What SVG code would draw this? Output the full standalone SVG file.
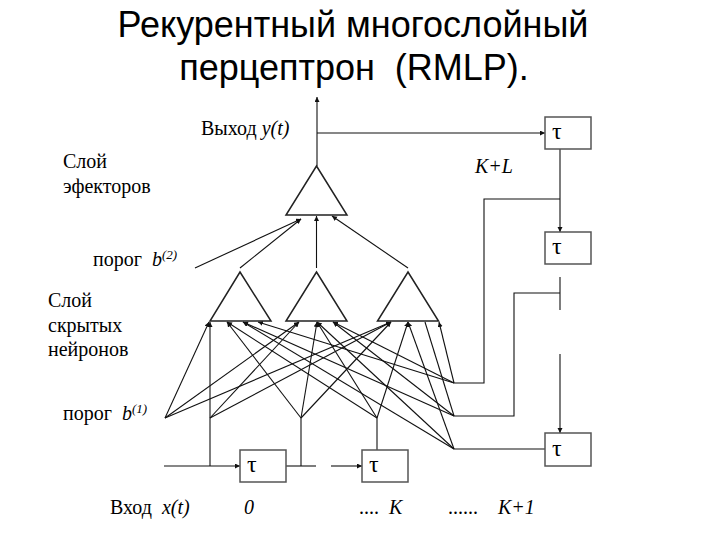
<svg xmlns="http://www.w3.org/2000/svg" width="720" height="540" viewBox="0 0 720 540">
<style>
.title{font:36px "Liberation Sans",Arial,sans-serif;fill:#000;text-anchor:middle}
.s{font:20px "Liberation Serif","Times New Roman",serif;fill:#000}
.t{font:24px "Liberation Serif","Times New Roman",serif;fill:#000}
.i{font-style:italic}
.sup{font-size:13px}
.n{fill:#fff;stroke:#222;stroke-width:1.5}
.b{fill:#fff;stroke:#555;stroke-width:1.5}
.c line,.c path{fill:none;stroke:#111;stroke-width:1.1}
.h{marker-end:url(#ah)}
</style>
<defs>
<marker id="ah" markerUnits="userSpaceOnUse" markerWidth="6" markerHeight="6" refX="5" refY="2.500" orient="auto"><path d="M0 0L5 2.500L0 5z" fill="#111" stroke="none"/></marker>
</defs>
<text class="title" x="353" y="37">Рекурентный многослойный</text>
<text class="title" x="354" y="80" xml:space="preserve">перцептрон  (RMLP).</text>
<g class="c" id="connectors">
<line class="h" x1="317" y1="166" x2="317" y2="97"/>
<line class="h" x1="317" y1="133" x2="545" y2="133"/>
<line class="h" x1="560" y1="149" x2="560" y2="232"/>
<line class="h" x1="560" y1="354" x2="560" y2="433"/>
<line x1="560" y1="277" x2="560" y2="310"/>
<path d="M454 383H484V199H560"/>
<path d="M454 416H514V293H560"/>
<path d="M454 449H545"/>
<line class="h" x1="195" y1="268" x2="301" y2="219"/>
<line class="h" x1="240" y1="268" x2="301" y2="219"/>
<line class="h" x1="316.500" y1="268" x2="316.500" y2="216"/>
<line class="h" x1="408" y1="268" x2="332" y2="216"/>
<line class="h" x1="165" y1="418" x2="209" y2="322"/>
<line class="h" x1="165" y1="418" x2="299" y2="322"/>
<line class="h" x1="165" y1="418" x2="391" y2="322"/>
<line class="h" x1="210" y1="466" x2="210" y2="322"/>
<line class="h" x1="210" y1="418" x2="299" y2="322"/>
<line class="h" x1="210" y1="418" x2="391" y2="322"/>
<line class="h" x1="301" y1="418" x2="227" y2="322"/>
<line class="h" x1="301" y1="418" x2="317" y2="322"/>
<line class="h" x1="301" y1="418" x2="391" y2="322"/>
<line class="h" x1="377" y1="418" x2="227" y2="322"/>
<line class="h" x1="377" y1="418" x2="317" y2="322"/>
<line x1="377" y1="450" x2="377" y2="418"/>
<line class="h" x1="377" y1="418" x2="408" y2="322"/>
<line class="h" x1="454" y1="383" x2="258" y2="322"/>
<line class="h" x1="454" y1="383" x2="333" y2="322"/>
<line class="h" x1="454" y1="383" x2="439" y2="322"/>
<line class="h" x1="454" y1="416" x2="243" y2="322"/>
<line class="h" x1="454" y1="416" x2="333" y2="322"/>
<line x1="454" y1="416" x2="425" y2="322"/>
<line class="h" x1="454" y1="449" x2="243" y2="322"/>
<line class="h" x1="454" y1="449" x2="317" y2="322"/>
<line class="h" x1="454" y1="449" x2="408" y2="322"/>
<line x1="301" y1="466" x2="301" y2="418"/>
<line class="h" x1="164" y1="466" x2="240" y2="466"/>
<line x1="286" y1="466" x2="316" y2="466"/>
<line class="h" x1="331" y1="466" x2="362" y2="466"/>
</g>
<g id="out"><path class="n" d="M316.500 166L347 215H286z"/></g>
<g id="h1"><path class="n" d="M240 272L271 321H210z"/></g>
<g id="h2"><path class="n" d="M316.500 272L347 321H286z"/></g>
<g id="h3"><path class="n" d="M408 272L438.500 321H377.500z"/></g>
<g id="d1"><rect class="b" x="240" y="450" width="46" height="32"/><text class="t" x="247" y="472">τ</text></g>
<g id="d2"><rect class="b" x="362" y="450" width="46" height="32"/><text class="t" x="369" y="472">τ</text></g>
<g id="d3"><rect class="b" x="545" y="117" width="46" height="32"/><text class="t" x="552" y="139">τ</text></g>
<g id="d4"><rect class="b" x="545" y="232" width="46" height="32"/><text class="t" x="552" y="254">τ</text></g>
<g id="d5"><rect class="b" x="545" y="433" width="46" height="33"/><text class="t" x="552" y="456">τ</text></g>
<text class="s" x="201" y="135">Выход <tspan class="i">y(t)</tspan></text>
<text class="i s" x="475" y="173">K+L</text>
<text class="s" x="63" y="168">Слой</text>
<text class="s" x="63" y="193">эфекторов</text>
<text class="s" x="93" y="266" xml:space="preserve">порог  <tspan class="i">b<tspan class="sup" dy="-7">(2)</tspan></tspan></text>
<text class="s" x="48" y="307">Слой</text>
<text class="s" x="48" y="332">скрытых</text>
<text class="s" x="48" y="356">нейронов</text>
<text class="s" x="63" y="420" xml:space="preserve">порог  <tspan class="i">b<tspan class="sup" dy="-7">(1)</tspan></tspan></text>
<text class="s" x="110" y="514" xml:space="preserve">Вход  <tspan class="i">x(t)</tspan></text>
<text class="i s" x="244" y="514">0</text>
<text class="s" x="359" y="514" xml:space="preserve">....  <tspan class="i">K</tspan></text>
<text class="s" x="448" y="514">......</text>
<text class="i s" x="498" y="514">K+1</text>
</svg>
